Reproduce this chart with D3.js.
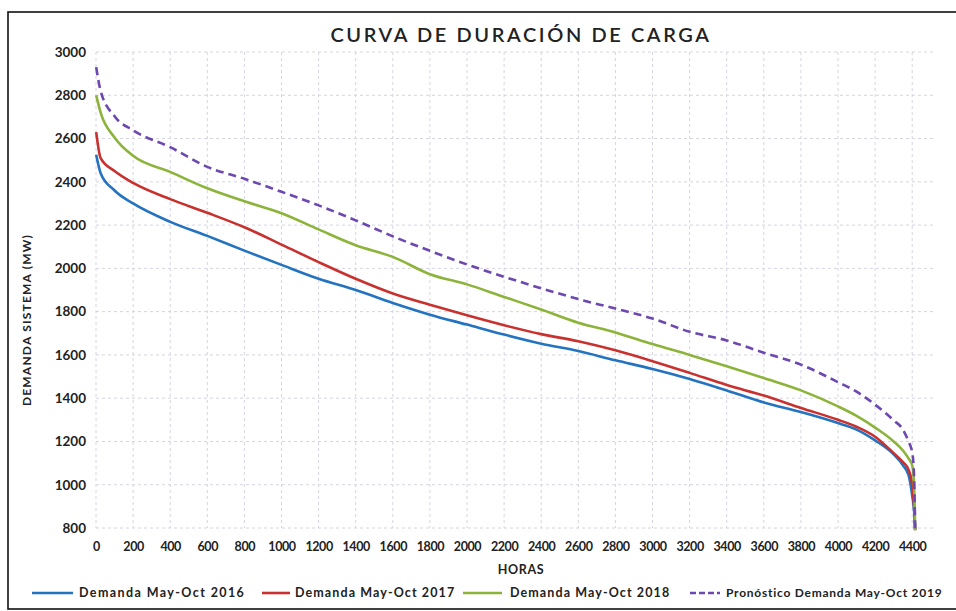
<!DOCTYPE html>
<html>
<head>
<meta charset="utf-8">
<script src="https://cdn.jsdelivr.net/npm/d3@7"></script>
<style>
  body { margin: 0; background: #fff; }
  svg { display: block; font-family: Lato, "Open Sans", sans-serif; }
</style>
</head>
<body>
<svg width="956" height="611"></svg>
<script>
// hours of the load duration curve (readings taken along the x axis)
const hours = [1, 25, 100, 200, 400, 600, 800, 1000, 1200, 1400, 1600, 1800, 2000, 2200, 2400,
  2600, 2800, 3000, 3200, 3400, 3600, 3800, 4000, 4100, 4200, 4300, 4350, 4380, 4400, 4410, 4416]

const demand2016 = [2525, 2440, 2360, 2300, 2215, 2150, 2082, 2016, 1952, 1900, 1840, 1786, 1740, 1694, 1652,
  1618, 1575, 1535, 1489, 1436, 1380, 1336, 1285, 1255, 1205, 1140, 1090, 1045, 950, 880, 790]
const demand2017 = [2630, 2510, 2450, 2395, 2320, 2257, 2190, 2110, 2029, 1952, 1884, 1832, 1783, 1737, 1696,
  1663, 1621, 1571, 1517, 1461, 1412, 1355, 1300, 1268, 1222, 1146, 1105, 1070, 1000, 900, 790]
const demand2018 = [2800, 2720, 2605, 2520, 2446, 2370, 2310, 2255, 2180, 2107, 2053, 1973, 1926, 1868, 1810,
  1749, 1704, 1650, 1600, 1548, 1493, 1436, 1362, 1318, 1264, 1200, 1158, 1122, 1090, 1000, 790]
const forecast2019 = [2930, 2820, 2703, 2638, 2560, 2469, 2414, 2354, 2291, 2222, 2148, 2081, 2018, 1961, 1908,
  1858, 1814, 1768, 1707, 1667, 1610, 1555, 1474, 1430, 1370, 1298, 1255, 1200, 1150, 1040, 780]

const seriesNames = ['Demanda May-Oct 2016', 'Demanda May-Oct 2017', 'Demanda May-Oct 2018', 'Pronóstico Demanda May-Oct 2019']
const xTicks = d3.range(0, 4401, 200)
const yTicks = d3.range(800, 3001, 200)

const colors = ['#2473c0', '#c8312e', '#8cb43a', '#6c48b0']
const dashes = [null, null, null, '8,5']

const svg = d3.select('svg')

const x = d3.scaleLinear().domain([0, 4400]).range([96, 912.2])
const y = d3.scaleLinear().domain([800, 3000]).range([528, 52])

// frame
svg.append('rect')
  .attr('x', 8).attr('y', 12)
  .attr('width', 980).attr('height', 597)
  .attr('fill', 'none')
  .attr('stroke', '#111')
  .attr('stroke-width', 1.6)

// title
svg.append('text')
  .attr('x', 521).attr('y', 42)
  .attr('text-anchor', 'middle')
  .attr('font-size', 20)
  .attr('font-weight', 600)
  .attr('letter-spacing', 2.6)
  .attr('fill', '#222')
  .text('CURVA DE DURACIÓN DE CARGA')

// grid
const grid = svg.append('g')
  .attr('stroke', '#d6d4e2')
  .attr('stroke-width', 1)
  .attr('stroke-dasharray', '3,3')

grid.selectAll('line.h')
  .data(yTicks)
  .join('line')
    .attr('class', 'h')
    .attr('x1', x(0)).attr('x2', 935)
    .attr('y1', d => y(d)).attr('y2', d => y(d))

grid.selectAll('line.v')
  .data(xTicks)
  .join('line')
    .attr('class', 'v')
    .attr('x1', d => x(d)).attr('x2', d => x(d))
    .attr('y1', y(3000)).attr('y2', y(800))

// axes (labels only)
const xAxis = d3.axisBottom(x).tickValues(xTicks).tickFormat(d3.format('d')).tickSize(0).tickPadding(14)
svg.append('g')
  .attr('transform', `translate(0, ${y(800)})`)
  .call(xAxis)
  .call(g => g.select('.domain').remove())
  .selectAll('text')
    .attr('font-family', 'Lato, sans-serif')
    .attr('font-size', 12.5)
    .attr('font-weight', 700)
    .attr('letter-spacing', -0.4)
    .attr('fill', '#222')

const yAxis = d3.axisLeft(y).tickValues(yTicks).tickFormat(d3.format('d')).tickSize(0).tickPadding(10)
svg.append('g')
  .attr('transform', `translate(${x(0)}, 0)`)
  .call(yAxis)
  .call(g => g.select('.domain').remove())
  .selectAll('text')
    .attr('font-family', 'Lato, sans-serif')
    .attr('font-size', 13.5)
    .attr('font-weight', 700)
    .attr('fill', '#222')

svg.append('text')
  .attr('x', 521).attr('y', 574)
  .attr('text-anchor', 'middle')
  .attr('font-size', 12.5)
  .attr('font-weight', 700)
  .attr('letter-spacing', 0.6)
  .attr('fill', '#222')
  .text('HORAS')

svg.append('text')
  .attr('transform', 'translate(31, 320) rotate(-90)')
  .attr('text-anchor', 'middle')
  .attr('font-size', 12)
  .attr('font-weight', 700)
  .attr('letter-spacing', 1.2)
  .attr('fill', '#222')
  .text('DEMANDA SISTEMA (MW)')

// curves
const allSeries = [demand2016, demand2017, demand2018, forecast2019]
const line = d3.line()
  .x((d, i) => x(hours[i]))
  .y(d => y(d))
  .curve(d3.curveMonotoneX)

svg.append('g')
  .selectAll('path')
  .data(allSeries)
  .join('path')
    .attr('d', line)
    .attr('fill', 'none')
    .attr('stroke', (d, i) => colors[i])
    .attr('stroke-width', 2.6)
    .attr('stroke-linejoin', 'round')
    .attr('stroke-dasharray', (d, i) => dashes[i])

// legend
const legendItems = [
  { lineX: 32, lineW: 41, textX: 79, spacing: 1.4 },
  { lineX: 262, lineW: 28, textX: 295, spacing: 1.1 },
  { lineX: 463, lineW: 39, textX: 510, spacing: 1.1 },
  { lineX: 690, lineW: 30, textX: 726, spacing: 0.75 }
]
const legend = svg.append('g').attr('transform', 'translate(0, 597)')
const items = legend.selectAll('g')
  .data(seriesNames)
  .join('g')

items.append('line')
  .attr('x1', (d, i) => legendItems[i].lineX)
  .attr('x2', (d, i) => legendItems[i].lineX + legendItems[i].lineW)
  .attr('y1', -4).attr('y2', -4)
  .attr('stroke', (d, i) => colors[i])
  .attr('stroke-width', 2.6)
  .attr('stroke-dasharray', (d, i) => dashes[i] ? '6,3' : null)

items.append('text')
  .attr('x', (d, i) => legendItems[i].textX)
  .attr('y', 0)
  .attr('font-size', (d, i) => i === 3 ? 12 : 12.5)
  .attr('font-weight', 700)
  .attr('letter-spacing', (d, i) => legendItems[i].spacing)
  .attr('fill', '#222')
  .text(d => d)
</script>
</body>
</html>
